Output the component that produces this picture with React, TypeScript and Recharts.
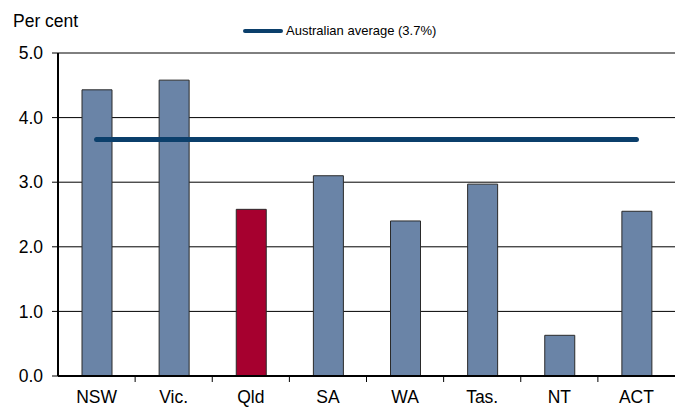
import React from 'react';
import {
  ComposedChart, Bar, Line, XAxis, YAxis, CartesianGrid, Cell,
} from 'recharts';

const states = ['NSW', 'Vic.', 'Qld', 'SA', 'WA', 'Tas.', 'NT', 'ACT'];
const shares = [4.43, 4.58, 2.58, 3.1, 2.4, 2.97, 0.63, 2.55];
const avgValues = [3.66, 3.66, 3.66, 3.66, 3.66, 3.66, 3.66, 3.66];
const yTicks = [0, 1, 2, 3, 4, 5];
const highlight = 'Qld';

const BLUE = '#6a84a7';
const RED = '#a6002f';
const NAVY = '#0b3f6b';
const FONT = '"Liberation Sans", Arial, sans-serif';

const data = states.map((s, i) => ({ state: s, share: shares[i], avg: avgValues[i] }));

const XTick = (props: any) => {
  const { x, y, payload, index, width, visibleTicksCount } = props;
  const band = width && visibleTicksCount ? width / visibleTicksCount : 77;
  return (
    <g>
      {index < states.length - 1 && (
        <line x1={x + band / 2} x2={x + band / 2} y1={y} y2={y + 6} stroke="#000" strokeWidth={1} />
      )}
      <text x={x} y={y + 27} textAnchor="middle" fontSize={17.5} fill="#000" fontFamily={FONT}>
        {payload.value}
      </text>
    </g>
  );
};

export default function App() {
  return (
    <div style={{ position: 'absolute', left: 0, top: 0, width: 678, height: 408, background: '#fff' }}>
      <div style={{ position: 'absolute', left: 13, top: 11, fontFamily: FONT, fontSize: 17.5, color: '#000', lineHeight: '20px' }}>
        Per cent
      </div>
      <div
        style={{
          position: 'absolute', left: 243, top: 23, display: 'flex', alignItems: 'center',
          fontFamily: FONT, fontSize: 13, color: '#000', lineHeight: '16px',
        }}
      >
        <div style={{ width: 40, height: 4, background: NAVY, borderRadius: 2 }} />
        <span style={{ marginLeft: 3 }}>Australian average (3.7%)</span>
      </div>
      <ComposedChart width={678} height={408} data={data} margin={{ top: 53, right: 3, bottom: 2, left: 0 }}>
        <CartesianGrid vertical={false} stroke="#000" strokeWidth={1} />
        <XAxis
          dataKey="state"
          height={30}
          axisLine={{ stroke: '#000', strokeWidth: 2 }}
          tickLine={false}
          tickSize={0}
          tickMargin={0}
          interval={0}
          tick={<XTick />}
        />
        <YAxis
          width={58}
          domain={[0, 5]}
          ticks={yTicks}
          interval={0}
          tickFormatter={(v: number) => v.toFixed(1)}
          axisLine={{ stroke: '#000', strokeWidth: 2 }}
          tickLine={{ stroke: '#000' }}
          tickSize={6}
          tickMargin={9}
          tick={{ fontSize: 17.5, fill: '#000', fontFamily: FONT }}
        />
        <YAxis
          yAxisId="right"
          orientation="right"
          width={0}
          domain={[0, 5]}
          tick={false}
          tickLine={false}
          axisLine={{ stroke: '#000', strokeWidth: 1 }}
        />
        <Bar dataKey="share" barSize={30} stroke="#2a2a2a" strokeWidth={1} isAnimationActive={false}>
          {data.map((d) => (
            <Cell key={d.state} fill={d.state === highlight ? RED : BLUE} />
          ))}
        </Bar>
        <Line
          dataKey="avg"
          stroke={NAVY}
          strokeWidth={5}
          strokeLinecap="round"
          dot={false}
          activeDot={false}
          isAnimationActive={false}
        />
      </ComposedChart>
    </div>
  );
}
